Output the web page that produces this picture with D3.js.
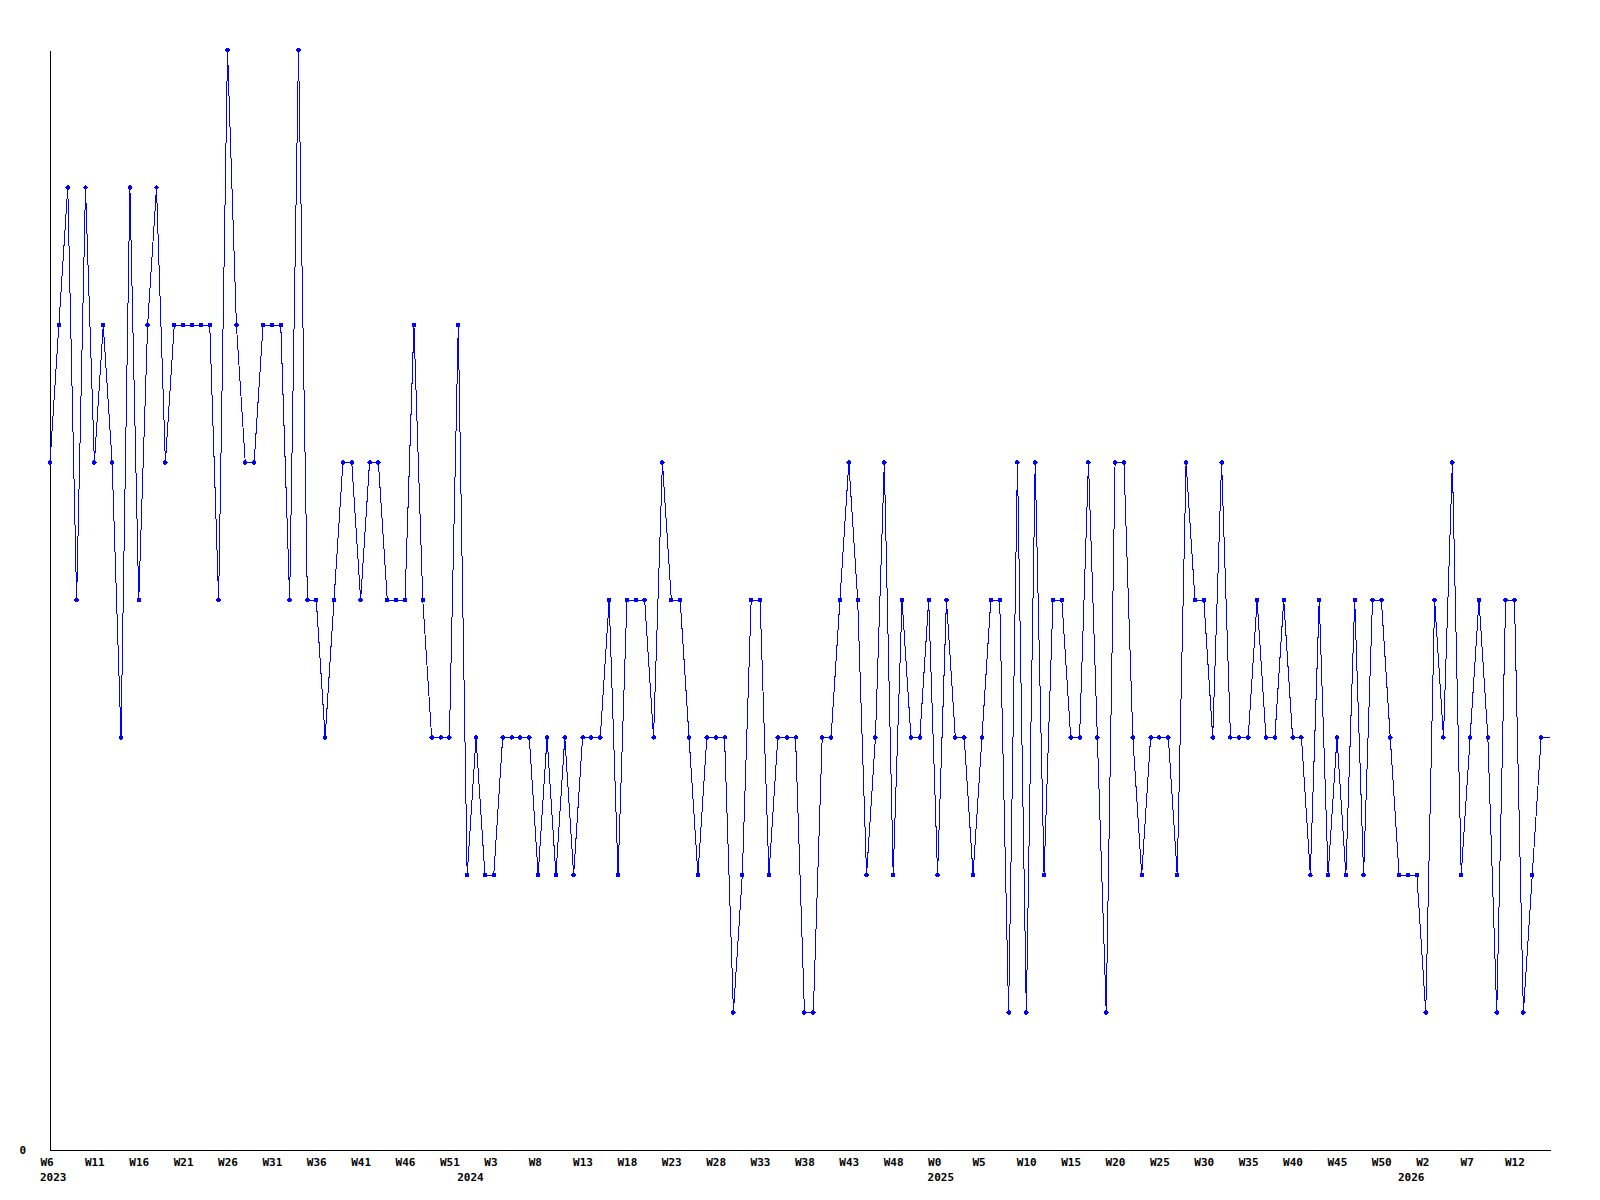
<!DOCTYPE html>
<html>
<head>
<meta charset="utf-8">
<script src="https://cdn.jsdelivr.net/npm/d3@7"></script>
<style>
  body { margin: 0; background: #fff; }
  text { font-family: "DejaVu Sans Mono", monospace; font-weight: bold; font-size: 11px; fill: #000; }
</style>
</head>
<body>
<script>
/* ====== data: weekly counts, one array per year ====== */
var years = [2023, 2024, 2025, 2026];
var firstWeek = [6, 0, 0, 0];
var counts2023 = [5,6,7,4,7,5,6,5,3,7, 4,6,7,5,6,6,6,6,6,4, 8,6,5,5,6,6,6,4,8,4,
                  4,3,4,5,5,4,5,5,4,4, 4,6,4,3,3,3,6];
var counts2024 = [2,3,2, 2,3,3,3,3,2,3,2,3,2, 3,3,3,4,2,4,4,4,3,5, 4,4,3,2,3,3,3,1,2,4,
                  4,2,3,3,3,1,1,3,3,4, 5,4,2,3,5,2,4,3,3,4];
var counts2025 = [2,4,3,3,2,3,4,4,1,5, 1,5,2,4,4,3,3,5,3,1, 5,5,3,2,3,3,3,2,5,4,
                  4,3,5,3,3,3,4,3,3,4, 3,3,2,4,2,3,2,4,2,4, 4,3,2];
var counts2026 = [2,2,1,4,3,5,2, 3,4,3,1,4,4,1,2,3,3];
var tickLabels = ["W6","W11","W16","W21","W26","W31","W36","W41","W46","W51",
                  "W3","W8","W13","W18","W23","W28","W33","W38","W43","W48",
                  "W0","W5","W10","W15","W20","W25","W30","W35","W40","W45","W50",
                  "W2","W7","W12"];
var yMax = 8;

/* ====== build rows ====== */
var data = [];
[counts2023, counts2024, counts2025, counts2026].forEach(function (arr, k) {
    arr.forEach(function (v, j) {
        data.push({key: years[k] + "-W" + (firstWeek[k] + j), year: years[k], first: j === 0, value: v});
    });
});

var w = 1600, h = 1200;
var padLeft = 50, padRight = 1550, padTop = 50, padBottom = 1150;

var svg = d3.select("body").append("svg")
    .attr("width", w)
    .attr("height", h);

var xScale = d3.scalePoint()
    .domain(data.map(function (d) { return d.key; }))
    .range([padLeft, padRight]);
var yScale = d3.scaleLinear()
    .domain([0, yMax])
    .range([padBottom, padTop]);

/* ====== axes ====== */
var xAxis = svg.append("g")
    .attr("transform", "translate(0," + padBottom + ")")
    .call(d3.axisBottom(xScale)
        .tickValues(xScale.domain().filter(function (d, i) { return i % 5 === 0; }))
        .tickFormat(function (d, i) { return tickLabels[i]; })
        .tickSize(0)
        .tickSizeOuter(0)
        .tickPadding(8));
xAxis.selectAll("text")
    .attr("text-anchor", "start")
    .attr("x", -10);

// year under the first week of each year
xAxis.selectAll("text.year")
    .data(data.filter(function (d) { return d.first; }))
    .enter().append("text")
    .attr("class", "year")
    .attr("text-anchor", "start")
    .attr("x", function (d) { return xScale(d.key) - 10; })
    .attr("y", 31)
    .text(function (d) { return d.year; });

var yAxis = svg.append("g")
    .attr("transform", "translate(" + padLeft + ",0)")
    .call(d3.axisLeft(yScale)
        .tickValues([0])
        .tickSize(0)
        .tickSizeOuter(0)
        .tickPadding(24));

svg.selectAll(".domain")
    .attr("stroke", "#000")
    .attr("stroke-width", 1)
    .attr("shape-rendering", "crispEdges");
svg.selectAll("g").attr("font-size", null).attr("font-family", null);

/* ====== series ====== */
var line = d3.line()
    .x(function (d) { return xScale(d.key); })
    .y(function (d) { return yScale(d.value); });

svg.append("path")
    .datum(data)
    .attr("fill", "none")
    .attr("stroke", "#0000ff")
    .attr("stroke-width", 1)
    .attr("shape-rendering", "crispEdges")
    .attr("d", line);

// last week is still open, no marker there
svg.selectAll("path.mark")
    .data(data.slice(0, data.length - 1))
    .enter().append("path")
    .attr("class", "mark")
    .attr("fill", "#0000ff")
    .attr("shape-rendering", "crispEdges")
    .attr("transform", function (d) { return "translate(" + xScale(d.key) + "," + yScale(d.value) + ")"; })
    .attr("d", d3.symbol().type(d3.symbolCircle).size(17));
</script>
</body>
</html>
